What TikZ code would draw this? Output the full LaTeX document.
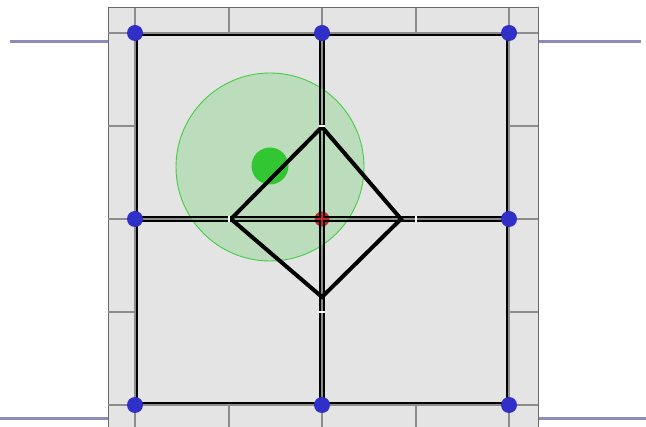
\documentclass[tikz,border=0pt]{standalone}
\begin{document}
\begin{tikzpicture}[x=1pt,y=-1pt,
  panel/.style={fill=panelgray,draw=panelborder,line width=1pt},
  gridline/.style={draw=gridgray,line width=1.6pt},
  cellline/.style={draw=black,line width=1.3pt},
  gapmark/.style={draw=white,line width=1.2pt},
  diamondline/.style={draw=black,line width=4pt,line cap=round},
  sideline/.style={draw=sideblue,line width=3pt},
  bluedot/.style={circle,fill=dotblue,inner sep=0pt,minimum size=16pt},
  reddot/.style={circle,fill=dotred,inner sep=0pt,minimum size=15pt},
  greendot/.style={circle,fill=dotgreen,inner sep=0pt,minimum size=37pt},
  rangecircle/.style={circle,fill=rangegreen,fill opacity=0.55,draw=rangeedge,line width=0.9pt,inner sep=0pt,minimum size=188pt}
]
\definecolor{panelgray}{HTML}{E4E4E4}
\definecolor{panelborder}{HTML}{6A6A6A}
\definecolor{gridgray}{HTML}{8C8C8C}
\definecolor{sideblue}{HTML}{8C8CB8}
\definecolor{dotblue}{HTML}{3030C8}
\definecolor{dotred}{HTML}{C02828}
\definecolor{dotgreen}{HTML}{33C633}
\definecolor{rangegreen}{HTML}{9CD89C}
\definecolor{rangeedge}{HTML}{44CC44}
\useasboundingbox (0,0) rectangle (646,427);
% side lines
\coordinate (l1a) at (10,42); \coordinate (l1b) at (108,42);
\coordinate (r1a) at (538,42); \coordinate (r1b) at (641,42);
\coordinate (l2a) at (0,419); \coordinate (l2b) at (108,419);
\coordinate (r2a) at (538,419); \coordinate (r2b) at (646,419);
\draw[sideline] (l1a) -- (l1b); \draw[sideline] (r1a) -- (r1b);
\draw[sideline] (l2a) -- (l2b); \draw[sideline] (r2a) -- (r2b);
% panel
\draw[panel] (108,8) rectangle (538,430);
% full grid lines
\foreach \x in {135,322,509} \draw[gridline] (\x,8) -- (\x,427);
\foreach \y in {33,219,405} \draw[gridline] (108,\y) -- (538,\y);
% border ticks
\foreach \x in {229,416} {\draw[gridline] (\x,8) -- (\x,33); \draw[gridline] (\x,405) -- (\x,427);}
\foreach \y in {126,312} {\draw[gridline] (108,\y) -- (135,\y); \draw[gridline] (509,\y) -- (538,\y);}
% range circle and target
\node[rangecircle] (rng) at (270,167) {};
\node[greendot] (tgt) at (270,166) {};
% diamond
\coordinate (dt) at (322,127);
\coordinate (dr) at (401,219);
\coordinate (db) at (322,297);
\coordinate (dl) at (231,219);
\draw[diamondline] (dt) -- (dr) -- (db) -- (dl) -- cycle;
\node[reddot] (ctr) at (322,219) {};
% cells, inset 2px
\draw[cellline] (137,35) rectangle (320,217);
\draw[cellline] (324,35) rectangle (507,217);
\draw[cellline] (137,221) rectangle (320,403);
\draw[cellline] (324,221) rectangle (507,403);
% small gaps
\draw[gapmark] (229,216) -- (229,222);
\draw[gapmark] (416,216) -- (416,222);
\draw[gapmark] (319,126) -- (325,126);
\draw[gapmark] (319,312) -- (325,312);
% blue corner dots
\node[bluedot] (b1) at (135,33) {};
\node[bluedot] (b2) at (322,33) {};
\node[bluedot] (b3) at (509,33) {};
\node[bluedot] (b4) at (135,219) {};
\node[bluedot] (b5) at (509,219) {};
\node[bluedot] (b6) at (135,405) {};
\node[bluedot] (b7) at (322,405) {};
\node[bluedot] (b8) at (509,405) {};
\end{tikzpicture}
\end{document}
